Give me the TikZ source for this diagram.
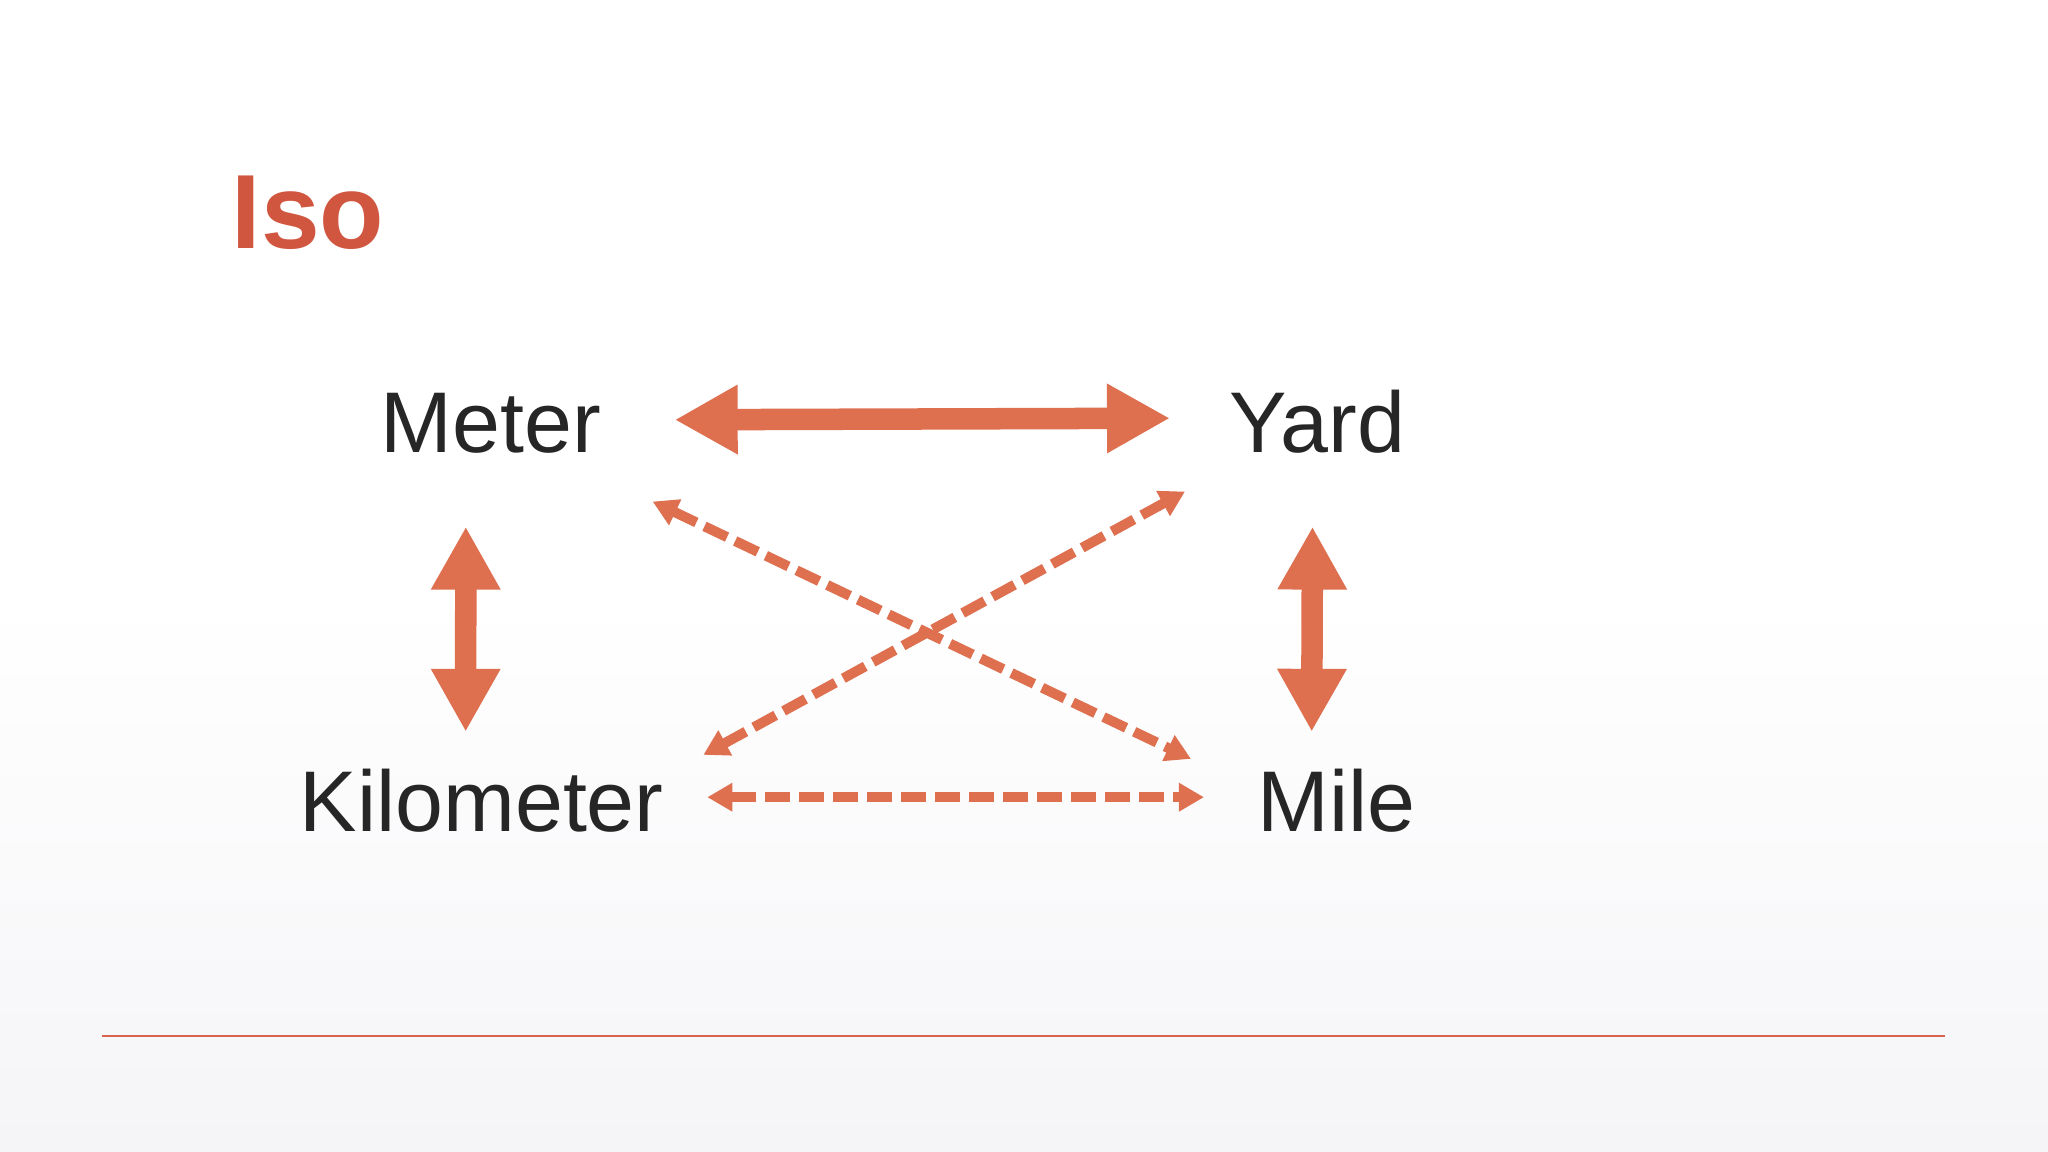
\documentclass[tikz,border=0pt]{standalone}
\usepackage{fontspec}
\setmainfont{Liberation Sans}
\usetikzlibrary{arrows.meta,calc}
\definecolor{isored}{RGB}{208,86,64}
\definecolor{arrowred}{RGB}{222,112,80}
\definecolor{rulered}{RGB}{216,100,80}
\definecolor{textgray}{RGB}{38,38,38}
\definecolor{bggray}{RGB}{245,244,247}

\begin{document}
\begin{tikzpicture}[x=0.01cm, y=-0.01cm,
    unit/.style={inner sep=0pt, anchor=base west, text=textgray, font=\fontsize{24.5}{29}\selectfont},
    fat/.style={arrowred, line width=0.215cm, >={Triangle[length=0.63cm,width=0.65cm]}, <->},
    dasharrow/.style={arrowred, line width=0.1cm, dash pattern=on 0.25cm off 0.09cm, >={Triangle[length=0.25cm,width=0.27cm]}, <->}]
    \useasboundingbox (0,0) rectangle (2048,1152);
    \fill[white] (0,0) rectangle (2048,600);
    \shade[top color=white, bottom color=bggray] (0,600) rectangle (2048,1152);

    % title and units
    \node[anchor=base west, inner sep=0pt, text=isored, font=\fontsize{30}{36}\selectfont\bfseries] (iso) at (231,249) {Iso};
    \node[unit] (meter) at (380,453) {Meter};
    \node[unit] (yard) at (1229,453) {Yard};
    \node[unit] (kilometer) at (299,831) {Kilometer};
    \node[unit] (mile) at (1257,831) {Mile};

    % direct conversions
    \draw[fat] ($(meter.east)+(73,-4)$) -- ($(yard.west)+(-59,-4)$);
    \draw[fat] ($(meter.south)+(-25,72)$) -- ($(kilometer.north)+(-16,-36)$);
    \draw[fat] ($(yard.south)+(-5,72)$) -- ($(mile.north)+(-25,-36)$);

    % indirect conversions
    \draw[dasharrow] ($(meter.south east)+(51,47)$) -- ($(mile.north west)+(-66,-9)$);
    \draw[dasharrow] ($(kilometer.north east)+(39,-13)$) -- ($(yard.south west)+(-44,37)$);
    \draw[dasharrow] ($(kilometer.east)+(43,-3)$) -- ($(mile.west)+(-53,-3)$);

    \draw[rulered, line width=0.02cm] (102,1036) -- (1945,1036);
\end{tikzpicture}
\end{document}
